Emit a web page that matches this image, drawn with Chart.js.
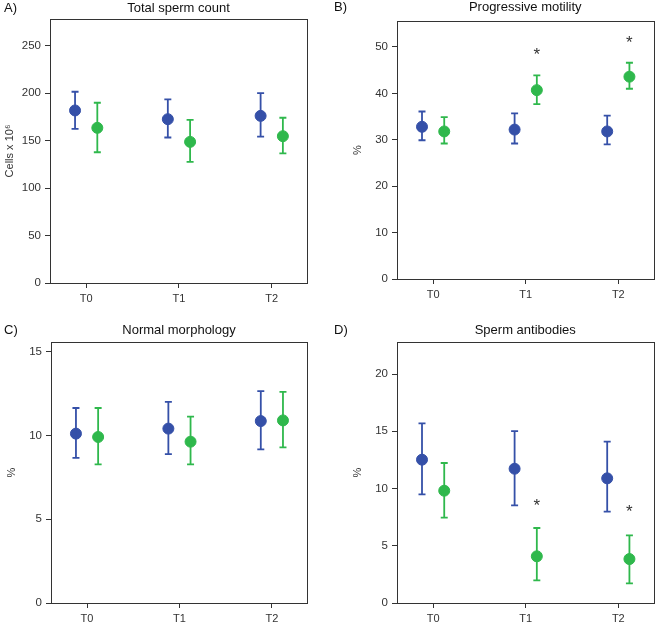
<!DOCTYPE html>
<html>
<head>
<meta charset="utf-8">
<script src="https://cdn.jsdelivr.net/npm/chart.js@4/dist/chart.umd.min.js"></script>
<style>
  html, body { margin: 0; padding: 0; background: #fff; }
  #wrap { position: relative; width: 660px; height: 627px; }
  .panel { position: absolute; }
</style>
</head>
<body>
<div id="wrap">
  <div class="panel" style="left:0;top:0"><canvas id="cA" width="330" height="313"></canvas></div>
  <div class="panel" style="left:330px;top:0"><canvas id="cB" width="330" height="313"></canvas></div>
  <div class="panel" style="left:0;top:313px"><canvas id="cC" width="330" height="314"></canvas></div>
  <div class="panel" style="left:330px;top:313px"><canvas id="cD" width="330" height="314"></canvas></div>
</div>
<script>
const categories = ['T0', 'T1', 'T2'];

// A) Total sperm count
const countBlue = [181.7, 172.5, 176.0];
const countBlueLow = [162.3, 153.2, 154.2];
const countBlueHigh = [201.4, 193.3, 200.0];
const countGreen = [163.4, 148.6, 154.6];
const countGreenLow = [137.7, 127.5, 136.6];
const countGreenHigh = [189.8, 171.8, 174.0];
const countStars = [null, null, null];

// B) Progressive motility
const motBlue = [32.8, 32.2, 31.8];
const motBlueLow = [29.9, 29.2, 29.0];
const motBlueHigh = [36.1, 35.7, 35.2];
const motGreen = [31.8, 40.7, 43.6];
const motGreenLow = [29.2, 37.7, 41.0];
const motGreenHigh = [34.9, 43.9, 46.6];
const motStars = [null, 48.9, 51.4];

// C) Normal morphology
const morphBlue = [10.11, 10.41, 10.86];
const morphBlueLow = [8.66, 8.89, 9.17];
const morphBlueHigh = [11.64, 12.0, 12.65];
const morphGreen = [9.91, 9.63, 10.9];
const morphGreenLow = [8.28, 8.28, 9.29];
const morphGreenHigh = [11.64, 11.12, 12.6];
const morphStars = [null, null, null];

// D) Sperm antibodies
const abBlue = [12.52, 11.73, 10.89];
const abBlueLow = [9.49, 8.53, 7.98];
const abBlueHigh = [15.69, 15.02, 14.09];
const abGreen = [9.81, 4.08, 3.84];
const abGreenLow = [7.45, 1.98, 1.72];
const abGreenHigh = [12.23, 6.55, 5.91];
const abStars = [null, 8.73, 8.15];

const BLUE = '#3550a8';
const GREEN = '#2fb84c';
const INK = '#333333';
const FONT = "'Liberation Sans', Arial, sans-serif";
const SHIFT = 0.12;

// error bars, asterisks, frame and panel titles
const extras = {
  id: 'extras',
  afterDatasetsDraw(chart) {
    const ctx = chart.ctx;
    const xs = chart.scales.x, ys = chart.scales.y;
    const p = chart.options.plugins.extras;
    ctx.save();
    ctx.lineWidth = 1.8;
    [[p.blueLow, p.blueHigh, -SHIFT, BLUE], [p.greenLow, p.greenHigh, SHIFT, GREEN]].forEach(([lo, hi, off, col]) => {
      ctx.strokeStyle = col;
      lo.forEach((v, i) => {
        const x = xs.getPixelForValue(i + off);
        const y1 = ys.getPixelForValue(v), y2 = ys.getPixelForValue(hi[i]);
        ctx.beginPath();
        ctx.moveTo(x, y1); ctx.lineTo(x, y2);
        ctx.moveTo(x - 3.5, y1); ctx.lineTo(x + 3.5, y1);
        ctx.moveTo(x - 3.5, y2); ctx.lineTo(x + 3.5, y2);
        ctx.stroke();
      });
    });
    ctx.fillStyle = INK;
    ctx.font = '17px ' + FONT;
    ctx.textAlign = 'center';
    ctx.textBaseline = 'middle';
    p.stars.forEach((v, i) => {
      if (v === null) return;
      ctx.fillText('*', xs.getPixelForValue(i + SHIFT), ys.getPixelForValue(v) + 3);
    });
    ctx.restore();
  },
  afterDraw(chart) {
    const ctx = chart.ctx, a = chart.chartArea;
    const p = chart.options.plugins.extras;
    ctx.save();
    ctx.strokeStyle = INK;
    ctx.lineWidth = 1;
    ctx.strokeRect(Math.round(a.left) + 0.5, Math.round(a.top) + 0.5, Math.round(a.right - a.left), Math.round(a.bottom - a.top));
    ctx.fillStyle = '#111';
    ctx.font = '13px ' + FONT;
    ctx.textBaseline = 'middle';
    ctx.textAlign = 'left';
    ctx.fillText(p.letter, 4, p.titleY);
    ctx.textAlign = 'center';
    ctx.fillText(p.title, (a.left + a.right) / 2, p.titleY);
    ctx.restore();
  }
};

function makePanel(id, cfg) {
  const pts = (vals, off) => vals.map((v, i) => ({ x: i + off, y: v }));
  new Chart(document.getElementById(id), {
    type: 'scatter',
    data: {
      datasets: [
        { data: pts(cfg.blue, -SHIFT), backgroundColor: BLUE, borderColor: BLUE, pointRadius: 5.5, pointHoverRadius: 5.5 },
        { data: pts(cfg.green, SHIFT), backgroundColor: GREEN, borderColor: GREEN, pointRadius: 5.5, pointHoverRadius: 5.5 }
      ]
    },
    options: {
      responsive: false,
      animation: false,
      events: [],
      layout: { padding: cfg.pad },
      plugins: {
        legend: { display: false },
        tooltip: { enabled: false },
        extras: {
          letter: cfg.letter, title: cfg.title, titleY: cfg.titleY, stars: cfg.stars,
          blueLow: cfg.blueLow, blueHigh: cfg.blueHigh, greenLow: cfg.greenLow, greenHigh: cfg.greenHigh
        }
      },
      scales: {
        x: {
          type: 'linear',
          min: -0.39, max: 2.38,
          afterBuildTicks: s => { s.ticks = categories.map((c, i) => ({ value: i })); },
          afterFit: s => { s.height = cfg.xHeight; },
          ticks: { callback: v => categories[v], color: INK, font: { family: FONT, size: 11 }, padding: 4, maxRotation: 0 },
          grid: { drawOnChartArea: false, tickLength: 5, color: INK },
          border: { color: INK }
        },
        y: {
          min: 0, max: cfg.yMax,
          afterFit: s => { s.width = cfg.yWidth; },
          ticks: { stepSize: cfg.step, includeBounds: false, color: INK, font: { family: FONT, size: 11.5 }, padding: 4 },
          grid: { drawOnChartArea: false, tickLength: 5, color: INK },
          border: { color: INK },
          title: { display: true, text: cfg.yTitle, color: INK, font: { family: FONT, size: 11 }, padding: { top: 3, bottom: 0 } }
        }
      }
    },
    plugins: [extras]
  });
}

makePanel('cA', {
  letter: 'A)', title: 'Total sperm count', titleY: 8, yTitle: 'Cells x 10\u2076',
  yMax: 278, step: 50, pad: { left: 0, top: 19, right: 23, bottom: 0 }, yWidth: 50, xHeight: 30,
  blue: countBlue, blueLow: countBlueLow, blueHigh: countBlueHigh,
  green: countGreen, greenLow: countGreenLow, greenHigh: countGreenHigh, stars: countStars
});
makePanel('cB', {
  letter: 'B)', title: 'Progressive motility', titleY: 7, yTitle: '%',
  yMax: 55.6, step: 10, pad: { left: 18, top: 21, right: 4, bottom: 0 }, yWidth: 49, xHeight: 34,
  blue: motBlue, blueLow: motBlueLow, blueHigh: motBlueHigh,
  green: motGreen, greenLow: motGreenLow, greenHigh: motGreenHigh, stars: motStars
});
makePanel('cC', {
  letter: 'C)', title: 'Normal morphology', titleY: 17, yTitle: '%',
  yMax: 15.58, step: 5, pad: { left: 2, top: 29, right: 23, bottom: 0 }, yWidth: 49, xHeight: 24,
  blue: morphBlue, blueLow: morphBlueLow, blueHigh: morphBlueHigh,
  green: morphGreen, greenLow: morphGreenLow, greenHigh: morphGreenHigh, stars: morphStars
});
makePanel('cD', {
  letter: 'D)', title: 'Sperm antibodies', titleY: 17, yTitle: '%',
  yMax: 22.8, step: 5, pad: { left: 18, top: 29, right: 4, bottom: 0 }, yWidth: 49, xHeight: 24,
  blue: abBlue, blueLow: abBlueLow, blueHigh: abBlueHigh,
  green: abGreen, greenLow: abGreenLow, greenHigh: abGreenHigh, stars: abStars
});
</script>
</body>
</html>
